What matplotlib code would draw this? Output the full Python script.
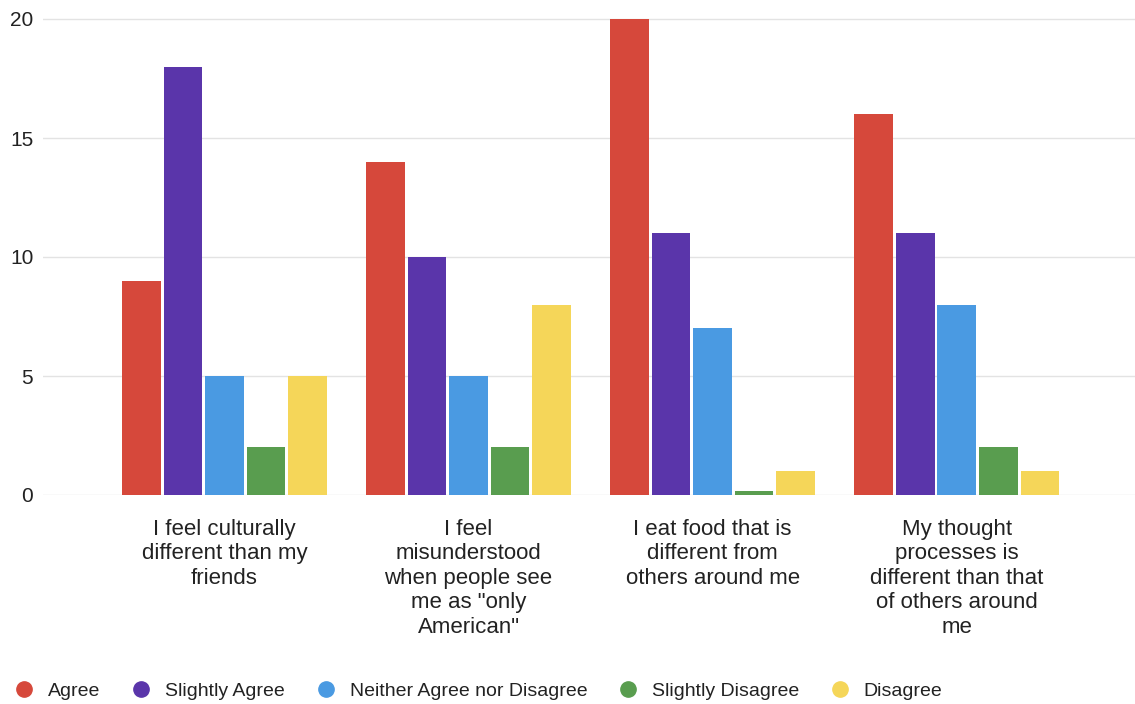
import numpy as np
from matplotlib import pyplot as plt
from matplotlib.lines import Line2D

plt.rcParams['font.family'] = ['Liberation Sans', 'DejaVu Sans']

categories = [
    "I feel culturally\ndifferent than my\nfriends",
    "I feel\nmisunderstood\nwhen people see\nme as \"only\nAmerican\"",
    "I eat food that is\ndifferent from\nothers around me",
    "My thought\nprocesses is\ndifferent than that\nof others around\nme",
]
series = ["Agree", "Slightly Agree", "Neither Agree nor Disagree", "Slightly Disagree", "Disagree"]
agree = [9, 14, 20, 16]
slightly_agree = [18, 10, 11, 11]
neither = [5, 5, 7, 8]
slightly_disagree = [2, 2, 0.15, 2]
disagree = [5, 8, 1, 1]
yticks = [0, 5, 10, 15, 20]

colors = ['#d6483b', '#5a35aa', '#4a9ae2', '#599d4f', '#f5d659']
values = [agree, slightly_agree, neither, slightly_disagree, disagree]

fig = plt.figure(figsize=(11.35, 7.04), dpi=100)
ax = fig.add_axes([43 / 1135, 209 / 704, 1 - 43 / 1135, (495 - 15) / 704])

x = np.arange(len(categories))
step = 0.17
width = 0.158
for i, (vals, col) in enumerate(zip(values, colors)):
    ax.bar(x + (i - 2) * step, vals, width=width, color=col, zorder=3)

ax.set_xlim(-0.743, 3.73)
ax.set_ylim(0, 20 * 480 / 476)
ax.set_yticks(yticks)
ax.set_yticklabels([str(t) for t in yticks], fontsize=15, color='#222222')
ax.set_xticks(x)
ax.set_xticklabels(categories, fontsize=16, color='#222222', linespacing=1.22)
ax.tick_params(axis='both', length=0)
ax.tick_params(axis='y', pad=7)
ax.tick_params(axis='x', pad=17)
ax.grid(axis='y', color='#e3e3e3', linewidth=1, zorder=0)
for s in ax.spines.values():
    s.set_visible(False)

handles = [Line2D([], [], marker='o', linestyle='', markersize=11, color=c) for c in colors]
fig.legend(handles, series, loc='center left', bbox_to_anchor=(0.006, 13 / 704), ncol=5,
           frameon=False, fontsize=14, handletextpad=0.74, columnspacing=1.58,
           handlelength=1.0, borderaxespad=0, labelcolor='#222222')

plt.savefig('out.png', dpi=100)
